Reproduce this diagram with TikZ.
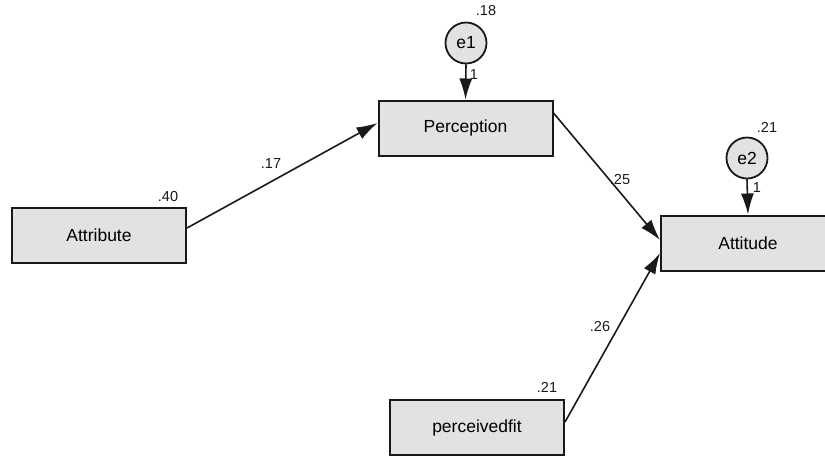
\documentclass[tikz,border=0pt]{standalone}
\usepackage{fontspec}
\setmainfont{Liberation Sans}
\usetikzlibrary{arrows.meta}
\definecolor{boxfill}{RGB}{226,226,226}
\definecolor{ink}{RGB}{25,25,25}
\begin{document}
\begin{tikzpicture}[x=1pt,y=-1pt,
  varbox/.style={draw=ink,line width=2pt,fill=boxfill,minimum width=174pt,minimum height=55pt,inner sep=0pt,font=\fontsize{17.5}{19}\selectfont},
  errcirc/.style={circle,draw=ink,line width=1.8pt,fill=boxfill,minimum size=41pt,inner sep=0pt,font=\fontsize{17.5}{19}\selectfont},
  path/.style={draw=ink,line width=1.6pt,-{Latex[length=21pt,width=13pt]}},
  est/.style={font=\fontsize{14.5}{16}\selectfont,text=ink,inner sep=0pt}]
\useasboundingbox (0,0) rectangle (825,459);
\begin{scope}
\clip (0,0) rectangle (825,459);
\node[varbox] (attr) at (99,235.5) {Attribute};
\node[varbox] (perc) at (465.5,128) {Perception};
\node[varbox] (att) at (748,243) {Attitude};
\node[varbox] (fit) at (477,427.5) {perceivedfit};
\node[errcirc] (e1) at (466,43) {e1};
\node[errcirc] (e2) at (747,158) {e2};
\draw[path] (e1.south) -- (perc.north);
\draw[path] (e2.south) -- (att.north);
\draw[path] ([yshift=7.5pt]attr.east) -- ([yshift=5pt]perc.west);
\draw[path] ([yshift=15pt]perc.east) -- ([yshift=3pt]att.west);
\draw[path] ([yshift=5.5pt]fit.east) -- ([yshift=-10pt]att.west);
\node[est] (l18) at (486,11) {.18};
\node[est] (l1a) at (474,75) {1};
\node[est] (l21a) at (767,127) {.21};
\node[est] (l1b) at (757,188) {1};
\node[est] (l40) at (168,197) {.40};
\node[est] (l17) at (271,164) {.17};
\node[est] (l25) at (620,180) {.25};
\node[est] (l26) at (600,327) {.26};
\node[est] (l21b) at (547,387) {.21};
\end{scope}
\end{tikzpicture}
\end{document}
